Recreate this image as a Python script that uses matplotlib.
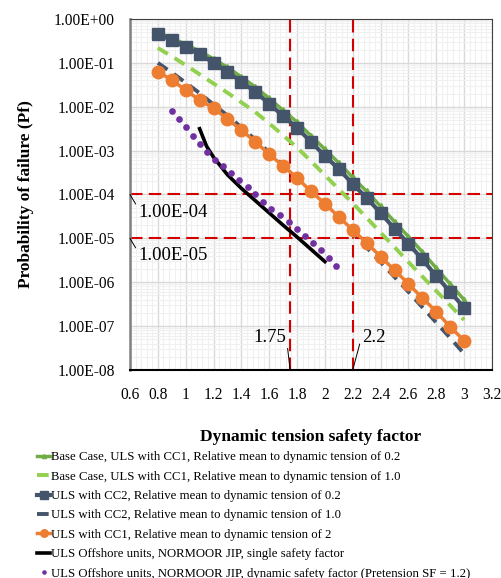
import numpy as np
import matplotlib.pyplot as plt
from matplotlib.ticker import MultipleLocator, FixedLocator, LogLocator, NullFormatter

plt.rcParams['font.family'] = ['Liberation Serif', 'DejaVu Serif']

# safety factor grid for the reliability curves
sf = [0.8, 0.9, 1.0, 1.1, 1.2, 1.3, 1.4, 1.5, 1.6, 1.7, 1.8, 1.9,
      2.0, 2.1, 2.2, 2.3, 2.4, 2.5, 2.6, 2.7, 2.8, 2.9, 3.0]

# -log10(Pf)
cc1_02 = [0.30, 0.43, 0.58, 0.73, 0.91, 1.10, 1.32, 1.55, 1.81, 2.08, 2.35, 2.66,
          2.97, 3.28, 3.61, 3.93, 4.27, 4.62, 4.96, 5.31, 5.68, 6.04, 6.40]
cc1_10 = [0.66, 0.85, 1.05, 1.26, 1.47, 1.68, 1.90, 2.12, 2.38, 2.65, 2.93, 3.24,
          3.56, 3.88, 4.20, 4.53, 4.87, 5.20, 5.54, 5.87, 6.20, 6.53, 6.86]
cc2_02 = [0.34, 0.48, 0.64, 0.80, 1.00, 1.20, 1.43, 1.66, 1.93, 2.21, 2.48, 2.80,
          3.12, 3.42, 3.76, 4.08, 4.42, 4.78, 5.12, 5.48, 5.86, 6.22, 6.58]
cc2_10 = [1.00, 1.22, 1.45, 1.69, 1.95, 2.20, 2.47, 2.75, 3.04, 3.33, 3.63, 3.93,
          4.24, 4.55, 4.88, 5.21, 5.54, 5.88, 6.22, 6.57, 6.92, 7.27, 7.63]
cc1_2 = [1.20, 1.39, 1.62, 1.85, 2.03, 2.28, 2.53, 2.80, 3.08, 3.35, 3.62, 3.93,
         4.21, 4.51, 4.81, 5.10, 5.42, 5.72, 6.04, 6.36, 6.67, 7.02, 7.33]

sf_single = [1.1, 1.15, 1.2, 1.3, 1.4, 1.5, 1.6, 1.7, 1.8, 1.9, 2.0]
single = [2.50, 2.90, 3.15, 3.55, 3.86, 4.14, 4.42, 4.70, 4.97, 5.25, 5.53]

sf_dyn = [0.9, 0.952, 1.0, 1.05, 1.103, 1.155, 1.21, 1.265, 1.325, 1.385, 1.445,
          1.5, 1.555, 1.612, 1.678, 1.742, 1.797, 1.857, 1.917, 1.972, 2.029, 2.08]
dyn = [2.10, 2.28, 2.47, 2.67, 2.85, 3.04, 3.21, 3.36, 3.52, 3.67, 3.83,
       3.99, 4.17, 4.33, 4.46, 4.63, 4.79, 4.94, 5.10, 5.26, 5.45, 5.63]

pf_targets = [1e-4, 1e-5]
sf_targets = [1.75, 2.2]


def pf(v):
    return 10.0 ** (-np.array(v))


fig = plt.figure(figsize=(5.02, 5.78), dpi=100)
ax = fig.add_axes([0.259, 0.360, 0.721, 0.607])

red = '#D40000'
ax.plot(sf, pf(cc1_02), color='#70AD47', lw=2.5, marker='^', ms=5,
        label='Base Case, ULS with CC1, Relative mean to dynamic tension of 0.2', zorder=4)
ax.plot(sf, pf(cc1_10), color='#92D050', lw=2.8, ls=(0, (3, 2)),
        label='Base Case, ULS with CC1, Relative mean to dynamic tension of 1.0', zorder=3)
ax.plot(sf, pf(cc2_02), color='#44546A', lw=3, marker='s', ms=9,
        label='ULS with CC2, Relative mean to dynamic tension of 0.2', zorder=5)
ax.plot(sf, pf(cc2_10), color='#44546A', lw=2.8, ls=(0, (3, 2)),
        label='ULS with CC2, Relative mean to dynamic tension of 1.0', zorder=3)
ax.plot(sf, pf(cc1_2), color='#ED7D31', lw=2.5, marker='o', ms=9,
        label='ULS with CC1, Relative mean to dynamic tension of 2', zorder=4)
ax.plot(sf_single, pf(single), color='black', lw=2.6,
        label='ULS Offshore units, NORMOOR JIP, single safety factor', zorder=6)
ax.plot(sf_dyn, pf(dyn), color='#7030A0', ls='none', marker='o', ms=3.8,
        label='ULS Offshore units, NORMOOR JIP, dynamic safety factor (Pretension SF = 1.2)', zorder=6)

for p in pf_targets:
    ax.axhline(p, color=red, lw=1.5, ls=(0, (6, 3)), zorder=2)
for s in sf_targets:
    ax.axvline(s, color=red, lw=1.5, ls=(0, (6, 3)), zorder=2)

ax.set_yscale('log')
ax.set_ylim(1e-8, 1)
ax.set_xlim(0.6, 3.2)
ax.xaxis.set_minor_locator(MultipleLocator(0.04))
ax.yaxis.set_major_locator(FixedLocator([10.0 ** -k for k in range(9)]))
ax.yaxis.set_minor_locator(LogLocator(base=10, subs=np.arange(2, 10)))
ax.yaxis.set_minor_formatter(NullFormatter())
xt = np.round(np.arange(0.6, 3.21, 0.2), 1)
ax.set_xticks(xt)
ax.set_xticklabels([f'{v:g}' for v in xt])
ax.set_yticklabels([f'1.00E{"+" if k == 0 else "-"}{k:02d}' for k in range(9)])
ax.tick_params(which='both', length=0, labelsize=11.2, colors='black')
ax.tick_params(axis='x', pad=12)
ax.tick_params(axis='y', pad=11)
ax.grid(which='major', color='#D9D9D9', lw=1.0)
ax.grid(which='minor', color='#F0F0F0', lw=0.8)
ax.set_axisbelow(True)
for side in ['top', 'right']:
    ax.spines[side].set_color('#404040')
ax.spines['left'].set_color('#808080')
ax.spines['left'].set_linewidth(1.8)
ax.spines['bottom'].set_color('black')
ax.spines['bottom'].set_linewidth(1.5)

ax.set_xlabel('Dynamic tension safety factor', fontsize=12.5, fontweight='bold', labelpad=19)
ax.set_ylabel('Probability of failure (Pf)', fontsize=12.5, fontweight='bold', labelpad=14)

# data labels on the target lines
for p in pf_targets:
    ax.annotate(f'{p:.2E}', xy=(0.6, p), xytext=(0.66, p * 10 ** -0.4),
                fontsize=13.5, va='center', ha='left',
                arrowprops=dict(arrowstyle='-', color='black', lw=0.7, shrinkA=0, shrinkB=0,
                                relpos=(0, 0.7)))
ax.annotate('1.75', xy=(1.75, 1e-8), xytext=(1.72, 10 ** -7.25), fontsize=13.5,
            va='center', ha='right',
            arrowprops=dict(arrowstyle='-', color='black', lw=0.7, shrinkA=0, shrinkB=0,
                            relpos=(1, 0.7)))
ax.annotate('2.2', xy=(2.2, 1e-8), xytext=(2.27, 10 ** -7.25), fontsize=13.5,
            va='center', ha='left',
            arrowprops=dict(arrowstyle='-', color='black', lw=0.7, shrinkA=0, shrinkB=0,
                            relpos=(0, 0.7)))

fig.legend(loc='upper left', bbox_to_anchor=(0.074, 0.219), frameon=False,
           fontsize=9.2, handlelength=1.0, handletextpad=0.05, labelspacing=0.575,
           borderaxespad=0, borderpad=0, markerscale=0.6)

fig.savefig('out.png', dpi=100)
